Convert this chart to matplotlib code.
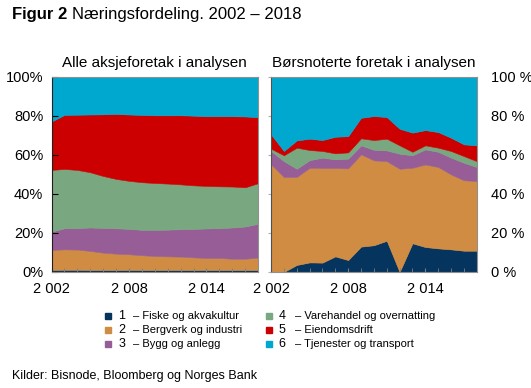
import numpy as np
import matplotlib.pyplot as plt
from matplotlib.lines import Line2D

plt.rcParams['font.family'] = ['Liberation Sans', 'DejaVu Sans']

years = np.arange(2002, 2019)

# cumulative tops (per cent), converted to shares below
# Alle aksjeforetak
all_top1 = [1.0, 1.1, 1.1, 1.0, 1.0, 1.0, 1.0, 1.0, 1.0, 1.0, 1.0, 1.0, 1.0, 1.0, 1.0, 1.0, 1.0]
all_top2 = [11.3, 11.6, 11.5, 10.8, 9.9, 9.4, 9.1, 8.6, 8.2, 8.0, 7.9, 7.5, 7.2, 7.2, 6.8, 6.8, 7.4]
all_top3 = [20.7, 22.4, 22.5, 22.8, 22.6, 22.4, 22.1, 21.6, 21.6, 21.7, 21.9, 22.1, 22.3, 22.5, 22.8, 23.3, 24.7]
all_top4 = [52.3, 52.8, 52.3, 51.1, 49.2, 47.7, 46.7, 46.0, 45.6, 45.3, 44.9, 44.4, 44.1, 43.9, 43.8, 43.4, 45.5]
all_top5 = [77.1, 80.5, 80.6, 80.7, 80.8, 81.0, 80.7, 80.5, 80.3, 80.3, 80.3, 80.1, 79.8, 79.8, 79.8, 79.7, 79.3]

# Børsnoterte foretak
bors_top1 = [0.0, 0.0, 3.6, 4.9, 4.8, 8.0, 6.1, 13.0, 13.7, 16.0, 0.0, 14.7, 12.8, 12.1, 11.6, 10.9, 10.9]
bors_top2 = [55.1, 48.7, 48.7, 53.4, 53.3, 53.3, 53.1, 60.3, 57.2, 56.8, 52.9, 53.4, 55.1, 53.8, 50.0, 47.0, 46.6]
bors_top3 = [62.0, 56.8, 52.9, 57.3, 58.6, 57.7, 58.1, 64.9, 62.6, 62.3, 60.6, 59.8, 62.8, 61.6, 58.6, 56.0, 53.8]
bors_top4 = [63.2, 59.8, 63.7, 62.5, 62.0, 60.8, 61.3, 68.5, 67.6, 68.3, 64.9, 61.6, 64.9, 63.7, 62.0, 59.4, 56.8]
bors_top5 = [70.5, 62.0, 67.4, 68.3, 67.6, 69.3, 69.6, 79.0, 79.9, 79.4, 73.4, 71.4, 72.7, 71.7, 68.8, 65.4, 64.9]

labels = ["Fiske og akvakultur", "Bergverk og industri", "Bygg og anlegg",
          "Varehandel og overnatting", "Eiendomsdrift", "Tjenester og transport"]
colors = ["#05345f", "#d08c42", "#975d96", "#79a77f", "#cc0000", "#00a8cf"]

xtick_years = [2002, 2008, 2014]
xtick_labels = ["2 002", "2 008", "2 014"]
yticks = [0, 20, 40, 60, 80, 100]


def shares(tops):
    t = np.vstack([np.zeros(len(years))] + [np.array(x) for x in tops] + [np.full(len(years), 100.0)])
    return np.diff(t, axis=0)


fig = plt.figure(figsize=(5.31, 3.88), dpi=100)
ax1 = fig.add_axes([0.097, 0.299, 0.389, 0.503])
ax2 = fig.add_axes([0.5104, 0.299, 0.3874, 0.503])

for ax, tops in [(ax1, [all_top1, all_top2, all_top3, all_top4, all_top5]),
                 (ax2, [bors_top1, bors_top2, bors_top3, bors_top4, bors_top5])]:
    ax.stackplot(years, shares(tops), colors=colors, linewidth=0.4,
                 edgecolor='face', antialiased=True)
    ax.set_xlim(2002, 2018)
    ax.set_ylim(0, 100)
    ax.set_xticks(xtick_years)
    ax.set_xticklabels(xtick_labels, fontsize=10.5)
    ax.set_xticks(years, minor=True)
    ax.tick_params(axis='x', which='both', direction='in', length=3, color='#808080', pad=7)
    ax.set_yticks(yticks)
    for s in ax.spines.values():
        s.set_color('#909090')
        s.set_linewidth(0.8)

ax1.set_yticklabels([f"{v}%" for v in yticks], fontsize=10.5)
ax1.tick_params(axis='y', direction='in', length=4, color='black', pad=6)
ax1.spines['left'].set_color('#202020')

ax2.yaxis.tick_right()
ax2.set_yticklabels([f"{v} %" for v in yticks], fontsize=10.5)
ax2.tick_params(axis='y', which='both', left=True, right=False, labelleft=False,
                labelright=True, direction='out', length=2, color='#b0b0b0', pad=8)
ax2.spines['left'].set_color('#505050')

ax1.set_title("Alle aksjeforetak i analysen", fontsize=11, pad=7)
ax2.set_title("Børsnoterte foretak i analysen", fontsize=11, pad=7)

W, H = 531.0, 388.0
fig.text(12 / W, 1 - 15 / H, "Figur 2", fontsize=12, fontweight='bold', va='center', ha='left')
fig.text(72 / W, 1 - 15 / H, "Næringsfordeling. 2002 – 2018", fontsize=12, va='center', ha='left')

# legend, two columns
row_y = [316, 330, 344]
col_x = [(108, 122, 133), (269, 282, 295)]
for i, lab in enumerate(labels):
    c, r = divmod(i, 3)
    mx, nx, tx = col_x[c]
    y = 1 - row_y[r] / H
    fig.add_artist(Line2D([mx / W], [y], marker='s', markersize=4.5, color=colors[i],
                          linestyle='none', transform=fig.transFigure))
    fig.text(nx / W, y, str(i + 1), fontsize=9, ha='center', va='center')
    fig.text(tx / W, y, "– " + lab, fontsize=8, ha='left', va='center')

fig.text(12 / W, 1 - 376 / H, "Kilder: Bisnode, Bloomberg og Norges Bank", fontsize=9,
         ha='left', va='center')

fig.savefig("out.png", dpi=100)
